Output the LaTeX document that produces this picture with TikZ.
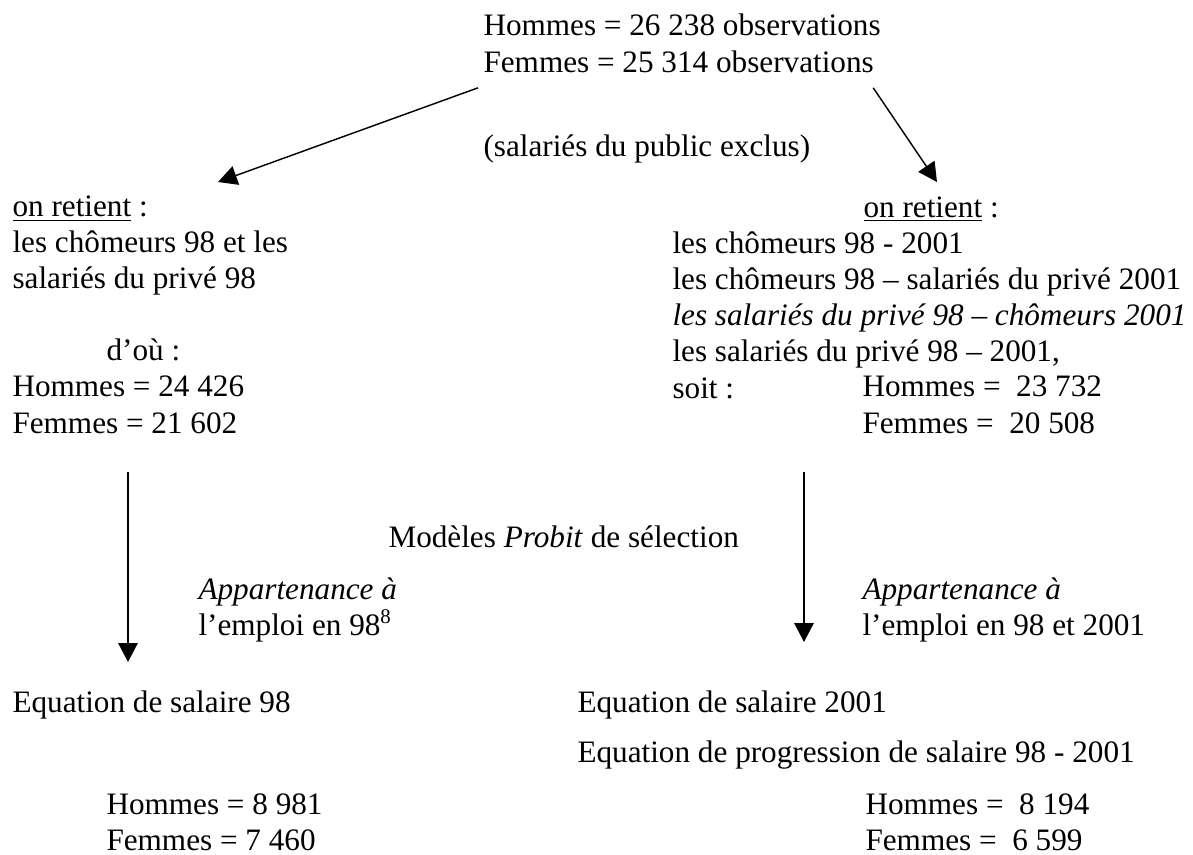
\documentclass[tikz,border=0pt]{standalone}
\usepackage{fontspec}
\setmainfont{Liberation Serif}
\usetikzlibrary{arrows.meta,calc,positioning}

\begin{document}
\begin{tikzpicture}[x=0.3846pt,y=-0.3846pt,
txt/.style={anchor=base west, inner sep=0pt, align=left, font=\fontsize{12}{13.85}\selectfont},
arr/.style={-{Triangle[length=7.3pt,width=7.5pt]}, line width=0.55pt}
]
\useasboundingbox (0,0) rectangle (1193,854);

  % multi-line nodes sit on the baseline of their last line
  \node [txt] (b0) at (483,72) {Hommes = 26 238 observations\\Femmes = 25 314 observations};
  \node [txt] (excl) at (483,156) {(salariés du public exclus)};

  \node [txt] (b1) at (12,433) {\underline{on retient} :\\
    les chômeurs 98 et les\\
    salariés du privé 98\\[13.85pt]
    \hspace*{36.2pt}d’où :\\
    Hommes = 24 426\\
    Femmes = 21 602};

  \node [txt] (r1) at (863,217) {\underline{on retient} :};
  \node [txt] (b2) at (672,398) {les chômeurs 98 - 2001\\
    les chômeurs 98 – salariés du privé 2001\\
    \textit{les salariés du privé 98 – chômeurs 2001}\\
    les salariés du privé 98 – 2001,\\
    soit :};
  \node [txt] (c2) at (862,433) {Hommes = \ 23 732\\Femmes = \ 20 508};

  \node [txt] (probit) at (388,547) {Modèles \textit{Probit} de sélection};
  \node [txt] (a1) at (198,635) {\itshape Appartenance à\\l’emploi en 98\textsuperscript{8}};
  \node [txt] (a2) at (862,635) {\itshape Appartenance à\\l’emploi en 98 et 2001};

  \node [txt] (e1) at (12,712) {Equation de salaire 98};
  \node [txt] (e2) at (577,712) {Equation de salaire 2001};
  \node [txt] (e3) at (577,762) {Equation de progression de salaire 98 - 2001};

  \node [txt] (c3) at (106,850) {Hommes = 8 981\\Femmes = 7 460};
  \node [txt] (c4) at (865,850) {Hommes = \ 8 194\\Femmes = \ 6 599};

  % arrow ends
  \coordinate (in1) at (218,182);
  \coordinate (in2) at (937,182);
  \coordinate (in3) at (128,662);
  \coordinate (in4) at (804,642);

  \draw[arr] ($(b0.south west)+(-5,15)$) -- (in1);
  \draw[arr] ($(b0.south east)+(-8,15)$) -- (in2);
  \draw[arr] ($(b1.south west)+(116,38)$) -- (in3);
  \draw[arr] ($(c2.south west)+(-58,38)$) -- (in4);
\end{tikzpicture}
\end{document}
